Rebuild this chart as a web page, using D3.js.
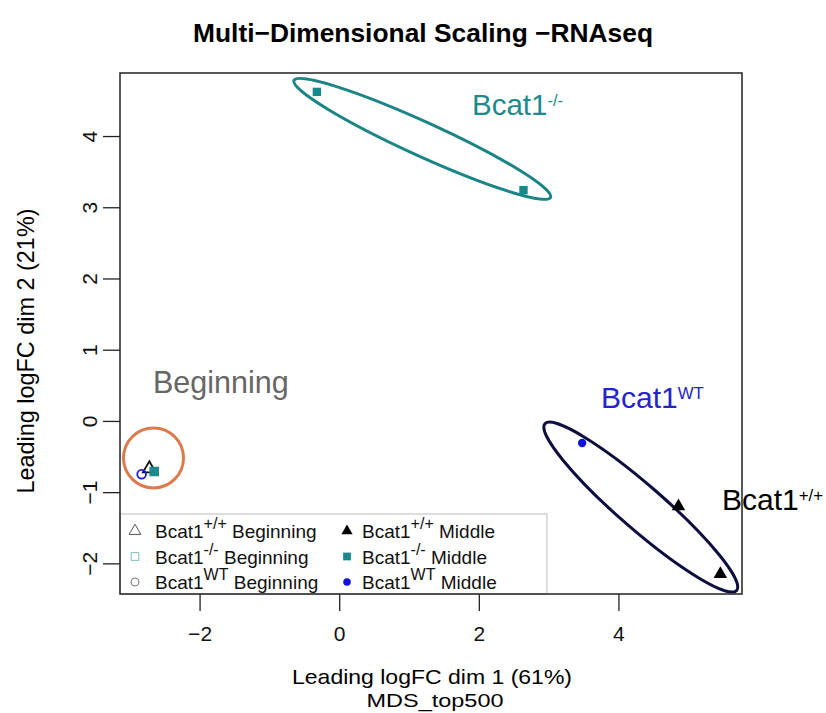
<!DOCTYPE html>
<html>
<head>
<meta charset="utf-8">
<script src="https://cdn.jsdelivr.net/npm/d3@7"></script>
<style>
  body { margin: 0; background: #fff; }
  svg { font-family: "Liberation Sans", Arial, Helvetica, sans-serif; }
</style>
</head>
<body>
<div id="chart"></div>
<script>
// MDS coordinates per sample
const sampleGroup = ["wt_beg", "ko_beg", "het_beg", "ko_mid", "ko_mid", "het_mid", "wt_mid", "wt_mid"];
const dim1 = [-2.72, -2.65, -2.83, -0.32, 2.64, 3.48, 4.86, 5.46];
const dim2 = [-0.67, -0.71, -0.75, 4.62, 3.24, -0.31, -1.20, -2.15];

// legend entries (order as in the R legend, column-wise)
const legendKeys = ["wt_beg", "ko_beg", "het_beg", "wt_mid", "ko_mid", "het_mid"];
const legendSup = ["+/+", "-/-", "WT", "+/+", "-/-", "WT"];
const legendStage = ["Beginning", "Beginning", "Beginning", "Middle", "Middle", "Middle"];

const xTicks = [-2, 0, 2, 4];
const yTicks = [-2, -1, 0, 1, 2, 3, 4];

const width = 826, height = 713;
const margin = { left: 120, right: 84, top: 73, bottom: 119 };

const symbolStyle = {
  wt_beg:  { type: d3.symbolTriangle, fill: "none", stroke: "#111", size: 70 },
  ko_beg:  { type: d3.symbolSquare,   fill: "#1b8b8b", stroke: "#1b8b8b", size: 60 },
  het_beg: { type: d3.symbolCircle,   fill: "none", stroke: "#1a1adb", size: 60 },
  wt_mid:  { type: d3.symbolTriangle, fill: "#000", stroke: "none", size: 80 },
  ko_mid:  { type: d3.symbolSquare,   fill: "#148a8a", stroke: "none", size: 70 },
  het_mid: { type: d3.symbolCircle,   fill: "#1010e0", stroke: "none", size: 55 }
};

const svg = d3.select("#chart").append("svg")
  .attr("width", width)
  .attr("height", height);

const x = d3.scaleLinear().domain([-3.14, 5.77]).range([margin.left, width - margin.right]);
const y = d3.scaleLinear().domain([-2.43, 4.885]).range([height - margin.bottom, margin.top]);

const minus = d => d < 0 ? "\u2212" + Math.abs(d) : d;

// title
svg.append("text")
  .attr("x", 423).attr("y", 42)
  .attr("text-anchor", "middle")
  .attr("textLength", 460).attr("lengthAdjust", "spacingAndGlyphs")
  .style("font-weight", "bold").style("font-size", "26px")
  .text("Multi\u2212Dimensional Scaling \u2212RNAseq");

// x axis
const xAxis = svg.append("g")
  .attr("transform", `translate(0,${height - margin.bottom})`)
  .call(d3.axisBottom(x).tickValues(xTicks).tickSize(17).tickPadding(15).tickFormat(minus));
xAxis.select(".domain").remove();
xAxis.selectAll("line").attr("stroke", "#222").attr("stroke-width", 1.3);
xAxis.selectAll("text").style("font-size", "21px").style("font-family", "inherit").attr("fill", "#111");

// y axis
const yAxis = svg.append("g")
  .attr("transform", `translate(${margin.left},0)`)
  .call(d3.axisLeft(y).tickValues(yTicks).tickSize(17).tickFormat(minus));
yAxis.select(".domain").remove();
yAxis.selectAll("line").attr("stroke", "#222").attr("stroke-width", 1.3);
yAxis.selectAll("text").remove();
yAxis.selectAll(".tick").append("text")
  .attr("transform", "translate(-23,0) rotate(-90)")
  .attr("text-anchor", "middle")
  .attr("fill", "#111")
  .style("font-size", "21px")
  .text(minus);

// axis titles
svg.append("text")
  .attr("x", 432).attr("y", 684)
  .attr("text-anchor", "middle").style("font-size", "21px")
  .attr("textLength", 280).attr("lengthAdjust", "spacingAndGlyphs")
  .text("Leading logFC dim 1 (61%)");
svg.append("text")
  .attr("x", 435).attr("y", 707)
  .attr("text-anchor", "middle").style("font-size", "19px")
  .attr("textLength", 137).attr("lengthAdjust", "spacingAndGlyphs")
  .text("MDS_top500");
svg.append("text")
  .attr("transform", "translate(34,351) rotate(-90)")
  .attr("text-anchor", "middle").style("font-size", "24px")
  .attr("textLength", 285).attr("lengthAdjust", "spacingAndGlyphs")
  .text("Leading logFC dim 2 (21%)");

// group outlines
const outlines = [
  { cx: 1.19, cy: 3.96, rx: 141, ry: 17, angle: 24.5, color: "#1b8585" },
  { cx: 4.32, cy: -1.21, rx: 127, ry: 22, angle: 41, color: "#0d0d3f" }
];
svg.selectAll("ellipse.grp")
  .data(outlines)
  .enter().append("ellipse")
  .attr("class", "grp")
  .attr("transform", d => `translate(${x(d.cx)},${y(d.cy)}) rotate(${d.angle})`)
  .attr("rx", d => d.rx).attr("ry", d => d.ry)
  .attr("fill", "none")
  .attr("stroke", d => d.color)
  .attr("stroke-width", 3);

svg.append("circle")
  .attr("cx", x(-2.66)).attr("cy", y(-0.52)).attr("r", 30)
  .attr("fill", "none").attr("stroke", "#dd7a4c").attr("stroke-width", 3);

// group labels
function supLabel(xp, yp, base, sup, color, size) {
  const t = svg.append("text").attr("x", xp).attr("y", yp)
    .attr("fill", color).style("font-size", size + "px");
  t.append("tspan").text(base);
  if (sup) t.append("tspan").attr("dy", -size * 0.31).style("font-size", (size * 0.56) + "px").text(sup);
}
supLabel(472, 115, "Bcat1", "-/-", "#1b8b8b", 29.5);
supLabel(153, 393, "Beginning", null, "#666", 30.5);
supLabel(601, 408, "Bcat1", "WT", "#2424c8", 30);
supLabel(722, 510, "Bcat1", "+/+", "#000", 30);

// points
const sym = d3.symbol();
svg.selectAll("path.pt")
  .data(dim1.map((d, i) => ({ x: d, y: dim2[i], g: sampleGroup[i] })))
  .enter().append("path")
  .attr("class", "pt")
  .attr("transform", d => `translate(${x(d.x)},${y(d.y)})`)
  .attr("d", d => sym.type(symbolStyle[d.g].type).size(symbolStyle[d.g].size)())
  .attr("fill", d => symbolStyle[d.g].fill)
  .attr("stroke", d => symbolStyle[d.g].stroke)
  .attr("stroke-width", 1.8);

// legend
const lg = svg.append("g");
lg.append("rect")
  .attr("x", margin.left).attr("y", 514)
  .attr("width", 427).attr("height", height - margin.bottom - 514)
  .attr("fill", "#fff").attr("stroke", "#bbb").attr("stroke-width", 1);

const legendSym = {
  wt_beg:  { fill: "none", stroke: "#555", size: 60 },
  ko_beg:  { fill: "none", stroke: "#7fbcbc", size: 60 },
  het_beg: { fill: "none", stroke: "#777", size: 50 },
  wt_mid:  { fill: "#000", stroke: "none", size: 55 },
  ko_mid:  { fill: "#158a8a", stroke: "none", size: 60 },
  het_mid: { fill: "#1010e0", stroke: "none", size: 45 }
};
legendKeys.forEach((k, i) => {
  const col = Math.floor(i / 3), row = i % 3;
  const sx = col === 0 ? 135 : 347, tx = col === 0 ? 155 : 362;
  const cy = 531 + row * 25.5;
  lg.append("path")
    .attr("transform", `translate(${sx},${cy})`)
    .attr("d", sym.type(symbolStyle[k].type).size(legendSym[k].size)())
    .attr("fill", legendSym[k].fill)
    .attr("stroke", legendSym[k].stroke)
    .attr("stroke-width", 1);
  const t = lg.append("text").attr("x", tx).attr("y", cy + 7).style("font-size", "19px").attr("fill", "#111");
  t.append("tspan").text("Bcat1");
  t.append("tspan").attr("dy", -9).style("font-size", "16px").text(legendSup[i]);
  t.append("tspan").attr("dy", 9).text(" " + legendStage[i]);
});

// plot frame
svg.append("rect")
  .attr("x", margin.left).attr("y", margin.top)
  .attr("width", width - margin.left - margin.right)
  .attr("height", height - margin.top - margin.bottom)
  .attr("fill", "none").attr("stroke", "#222").attr("stroke-width", 1.5);
</script>
</body>
</html>
